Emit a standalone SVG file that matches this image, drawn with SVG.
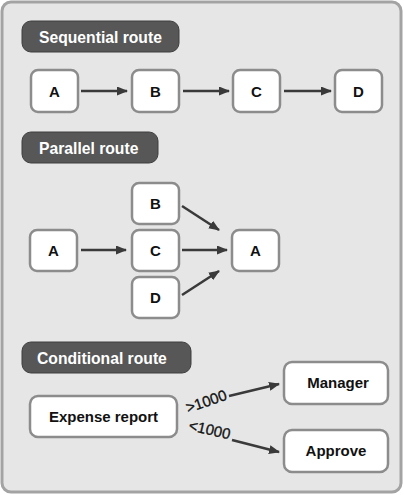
<svg xmlns="http://www.w3.org/2000/svg" width="404" height="495" viewBox="0 0 404 495">
<defs>
<marker id="ah" viewBox="0 0 11 9" refX="10" refY="4.5" markerWidth="11" markerHeight="9" markerUnits="userSpaceOnUse" orient="auto">
<path d="M0,0 L11,4.5 L0,9 Z" fill="#3a3a3a"/>
</marker>
</defs>
<style>
.hdr{fill:#575757;stroke:#3f3f3f;stroke-width:1}
.ht{fill:#ffffff;font-family:"Liberation Sans",Arial,sans-serif;font-weight:bold;font-size:15.7px}
.nd{fill:#ffffff;stroke:#8c8c8c;stroke-width:2.5}
.nt{fill:#111111;font-family:"Liberation Sans",Arial,sans-serif;font-weight:bold;font-size:15px;text-anchor:middle}
.cn{stroke:#3a3a3a;stroke-width:2.5;fill:none;marker-end:url(#ah)}
.lb{fill:#111111;stroke:#111111;stroke-width:0.3;font-family:"Liberation Sans",Arial,sans-serif;font-size:15px}
</style>
<rect x="0" y="0" width="404" height="495" fill="#ffffff"/>
<rect id="panel" x="2" y="2" width="399" height="490" rx="9" fill="#e6e6e6" stroke="#a3a3a3" stroke-width="3"/>

<g id="hdr-seq"><rect class="hdr" x="22" y="21" width="157" height="31" rx="9"/><text class="ht" x="39" y="43">Sequential route</text></g>
<g id="seq-a"><rect class="nd" x="31" y="70" width="47" height="42" rx="7"/><text class="nt" x="54.5" y="97">A</text></g>
<g id="seq-b"><rect class="nd" x="132" y="70" width="47" height="42" rx="7"/><text class="nt" x="155.5" y="97">B</text></g>
<g id="seq-c"><rect class="nd" x="233" y="70" width="47" height="42" rx="7"/><text class="nt" x="256.5" y="97">C</text></g>
<g id="seq-d"><rect class="nd" x="335" y="70" width="47" height="42" rx="7"/><text class="nt" x="358.5" y="97">D</text></g>

<g id="hdr-par"><rect class="hdr" x="22" y="132" width="136" height="31" rx="9"/><text class="ht" x="39" y="154">Parallel route</text></g>
<g id="par-a1"><rect class="nd" x="30" y="230" width="47" height="41" rx="7"/><text class="nt" x="53.5" y="256">A</text></g>
<g id="par-b"><rect class="nd" x="132" y="183" width="47" height="41" rx="7"/><text class="nt" x="155.5" y="209">B</text></g>
<g id="par-c"><rect class="nd" x="132" y="230" width="47" height="41" rx="7"/><text class="nt" x="155.5" y="256">C</text></g>
<g id="par-d"><rect class="nd" x="132" y="277" width="47" height="41" rx="7"/><text class="nt" x="155.5" y="303">D</text></g>
<g id="par-a2"><rect class="nd" x="232" y="230" width="47" height="41" rx="7"/><text class="nt" x="255.5" y="256">A</text></g>

<g id="hdr-cond"><rect class="hdr" x="22" y="342" width="169" height="31" rx="9"/><text class="ht" x="37" y="364">Conditional route</text></g>
<g id="expense"><rect class="nd" x="30" y="396" width="147" height="41" rx="8"/><text class="nt" x="103.5" y="422">Expense report</text></g>
<g id="manager"><rect class="nd" x="284" y="362" width="104" height="42" rx="8"/><text class="nt" x="338" y="388">Manager</text></g>
<g id="approve"><rect class="nd" x="284" y="430" width="104" height="42" rx="8"/><text class="nt" x="336" y="456">Approve</text></g>

<g id="connectors">
<line class="cn" x1="81" y1="91" x2="127" y2="91"/>
<line class="cn" x1="183" y1="91" x2="229" y2="91"/>
<line class="cn" x1="284" y1="91" x2="331" y2="91"/>
<line class="cn" x1="81" y1="250" x2="126" y2="250"/>
<line class="cn" x1="182" y1="250" x2="227" y2="250"/>
<line class="cn" x1="182" y1="206" x2="219" y2="230"/>
<line class="cn" x1="182" y1="295" x2="219" y2="271"/>
<line class="cn" x1="229" y1="396" x2="279" y2="384"/>
<line class="cn" x1="232" y1="440" x2="279" y2="452"/>
<text class="lb" transform="translate(188,413) rotate(-19)">&gt;1000</text>
<text class="lb" transform="translate(188,430) rotate(13)">&lt;1000</text>
</g>
</svg>
